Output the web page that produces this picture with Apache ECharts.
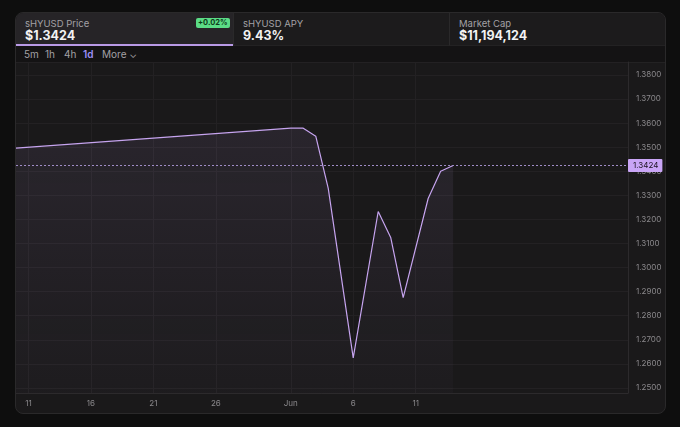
<!DOCTYPE html>
<html>
<head>
<meta charset="utf-8">
<script src="https://cdn.jsdelivr.net/npm/echarts@6/dist/echarts.min.js"></script>
<style>
  html,body{margin:0;padding:0;background:#0e0e0e;width:680px;height:427px;overflow:hidden;font-family:Inter,"Noto Sans",sans-serif;}
  #card{position:absolute;left:15px;top:12px;width:649px;height:400px;border:1px solid #2a292a;border-radius:8px;background:#1a191a;overflow:hidden;}
  .tab{position:absolute;top:0;height:33px;box-sizing:border-box;}
  .tab .lbl{position:absolute;left:9px;top:5px;font-size:9.5px;color:#a3a1a5;}
  .tab .val{position:absolute;left:9px;top:15px;font-size:12.5px;font-weight:700;color:#f2f2f2;}
  #t1{left:0;width:217px;background:#262427;border-bottom:2px solid #b99ae6;}
  #t2{left:217px;width:216px;background:#1c1b1c;border-left:1px solid #2a292a;border-bottom:1px solid #232223;}
  #t3{left:433px;width:216px;background:#1c1b1c;border-left:1px solid #2a292a;border-bottom:1px solid #232223;}
  .badge{position:absolute;left:180px;top:5px;padding:0 2px;height:10px;line-height:10px;font-size:7.5px;font-weight:700;color:#0d3b1a;background:#5bdc86;border-radius:2px;}
  #tools{position:absolute;left:0;top:33px;width:649px;height:16px;background:#141314;border-bottom:1px solid #232223;}
  #tools span{position:absolute;top:2px;font-size:10px;color:#a3a1a5;}
  #chart{position:absolute;left:0;top:0;width:680px;height:427px;}
</style>
</head>
<body>
<div id="card">
  <div class="tab" id="t1"><div class="lbl">sHYUSD Price</div><div class="val">$1.3424</div><div class="badge">+0.02%</div></div>
  <div class="tab" id="t2"><div class="lbl">sHYUSD APY</div><div class="val">9.43%</div></div>
  <div class="tab" id="t3"><div class="lbl">Market Cap</div><div class="val">$11,194,124</div></div>
  <div id="tools">
    <span style="left:8px">5m</span>
    <span style="left:29px">1h</span>
    <span style="left:48px">4h</span>
    <span style="left:67px;color:#9d8ff7;font-weight:600">1d</span>
    <span style="left:86px">More &#x2304;</span>
  </div>
</div>
<div id="chart"></div>
<script>
const categories = [
  '5/10','5/11','5/12','5/13','5/14','5/15','5/16','5/17','5/18','5/19','5/20',
  '5/21','5/22','5/23','5/24','5/25','5/26','5/27','5/28','5/29','5/30','5/31',
  '6/1','6/2','6/3','6/4','6/5','6/6','6/7','6/8','6/9','6/10','6/11','6/12',
  '6/13','6/14','6/15','6/16','6/17','6/18','6/19','6/20','6/21','6/22','6/23',
  '6/24','6/25','6/26','6/27','6/28'
];
const priceDates  = ['5/10','6/1','6/2','6/3','6/4','6/6','6/8','6/9','6/10','6/12','6/13','6/14'];
const priceValues = [1.3496,1.3579,1.3579,1.3546,1.3329,1.2625,1.3233,1.3125,1.2875,1.3287,1.3400,1.3424];
const lastPrice = 1.3424;
const yMin = 1.2479, yMax = 1.3854;
const labelDays = {'5/11':1,'5/16':1,'5/21':1,'5/26':1,'6/1':1,'6/6':1,'6/11':1};

const chart = echarts.init(document.getElementById('chart'), null, {renderer:'canvas'});
const lineData = priceDates.map((d,i)=>[d, priceValues[i]]);
const showFn = (idx, val) => !!labelDays[val];
chart.setOption({
  animation:false,
  backgroundColor:'transparent',
  grid:{left:16, right:52, top:62, bottom:34, containLabel:false},
  xAxis:{
    type:'category', data:categories, boundaryGap:false,
    axisLine:{show:true, lineStyle:{color:'#2c2a2c'}},
    axisTick:{show:false},
    axisLabel:{interval:showFn, margin:7, fontSize:8, color:'#8b898c', fontFamily:'Inter',
      formatter:v=>{const p=v.split('/'); return (p[0]==='6'&&p[1]==='1')?'Jun':p[1];}},
    splitLine:{show:true, interval:showFn, lineStyle:{color:'#232123', width:1}}
  },
  yAxis:{
    type:'value', position:'right', min:yMin, max:yMax, splitNumber:13,
    axisLine:{show:true, lineStyle:{color:'#2c2a2c'}},
    axisTick:{show:false},
    axisLabel:{showMinLabel:false, showMaxLabel:false, margin:8, fontSize:8, color:'#8b898c', fontFamily:'Inter',
      formatter:v=>v.toFixed(4)},
    splitLine:{show:true, lineStyle:{color:'#232123', width:1}}
  },
  series:[{
    type:'line', data:lineData, showSymbol:false, symbol:'none',
    lineStyle:{color:'#c6a4ef', width:1.2},
    areaStyle:{origin:'start', color:new echarts.graphic.LinearGradient(0,0,0,1,[
      {offset:0,color:'rgba(200,165,240,0.13)'},
      {offset:1,color:'rgba(200,165,240,0.03)'}
    ])},
    markLine:{
      silent:true, symbol:'none', precision:4,
      lineStyle:{color:'#9f8cc6', type:[2,2], width:1},
      label:{show:true, position:'end', distance:0, formatter:()=>lastPrice.toFixed(4),
        backgroundColor:'#c9a5f6', color:'#1b1420', fontSize:8, fontFamily:'Inter',
        padding:[3,4,2,5], borderRadius:1},
      data:[{yAxis:lastPrice}]
    }
  }]
});
</script>
</body>
</html>
